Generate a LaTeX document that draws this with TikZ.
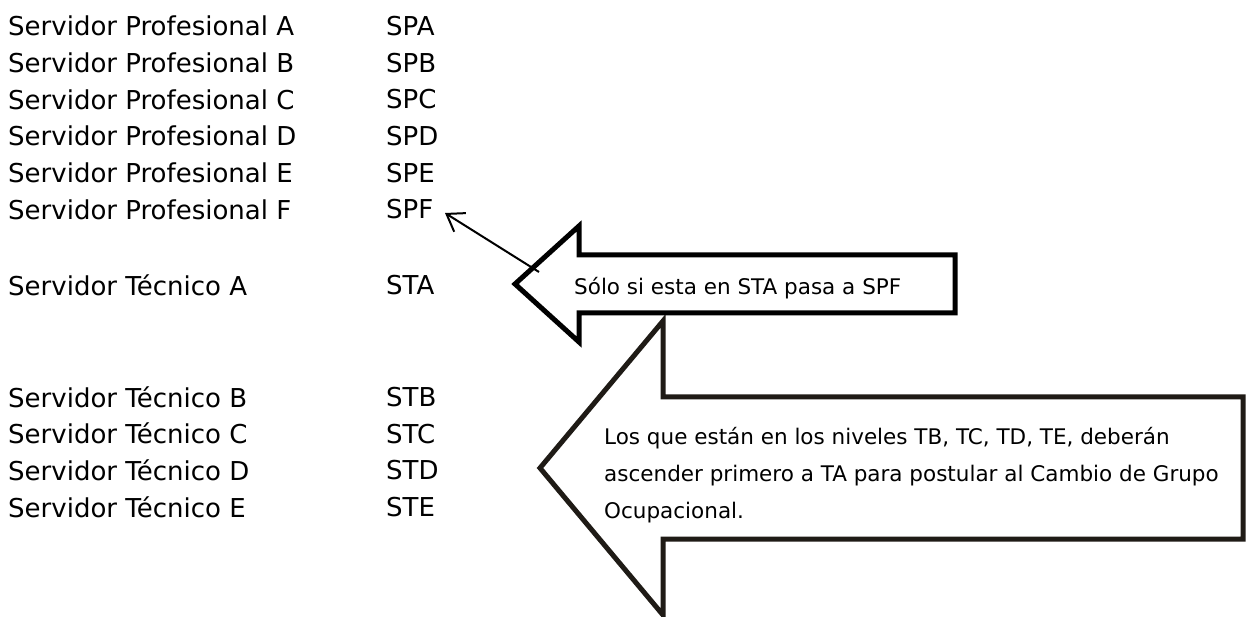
\documentclass[tikz,border=0pt]{standalone}
\usepackage{fontspec}
\setmainfont{DejaVu Sans}
\usetikzlibrary{arrows.meta}
\definecolor{darkline}{HTML}{1F1B16}
\tikzset{
  rowtext/.style={anchor=west, inner sep=0pt, font=\fontsize{26}{30}\selectfont},
  boxtext/.style={anchor=west, inner sep=0pt, font=\fontsize{21.5}{37}\selectfont, align=left},
  blockarrow/.style={line width=5pt, line join=miter, fill=white},
  thinarrow/.style={line width=2pt, -{Straight Barb[length=16pt,width=22pt,line width=2pt]}}
}
\begin{document}
\begin{tikzpicture}[x=1pt,y=-1pt]
\useasboundingbox (0,0) rectangle (1248,617);
\fill[white] (0,0) rectangle (1248,617);

% left column
\node[rowtext] (pa) at (8,26) {Servidor Profesional A};
\node[rowtext] (pb) at (8,62.7) {Servidor Profesional B};
\node[rowtext] (pc) at (8,99.4) {Servidor Profesional C};
\node[rowtext] (pd) at (8,136.1) {Servidor Profesional D};
\node[rowtext] (pe) at (8,172.8) {Servidor Profesional E};
\node[rowtext] (pf) at (8,209.5) {Servidor Profesional F};
\node[rowtext] (ta) at (8,285) {Servidor Técnico A};
\node[rowtext] (tb) at (8,397) {Servidor Técnico B};
\node[rowtext] (tc) at (8,433.7) {Servidor Técnico C};
\node[rowtext] (td) at (8,470.4) {Servidor Técnico D};
\node[rowtext] (te) at (8,507.1) {Servidor Técnico E};

% codes
\node[rowtext] (spa) at (386,26) {SPA};
\node[rowtext] (spb) at (386,62.7) {SPB};
\node[rowtext] (spc) at (386,99.4) {SPC};
\node[rowtext] (spd) at (386,136.1) {SPD};
\node[rowtext] (spe) at (386,172.8) {SPE};
\node[rowtext] (spf) at (386,209.5) {SPF};
\node[rowtext] (sta) at (386,285) {STA};
\node[rowtext] (stb) at (386,397) {STB};
\node[rowtext] (stc) at (386,433.7) {STC};
\node[rowtext] (std) at (386,470.4) {STD};
\node[rowtext] (ste) at (386,507.1) {STE};

% big arrow
\draw[blockarrow, draw=darkline] (540,468) -- (663,321) -- (663,397) -- (1243,397)
  -- (1243,539) -- (663,539) -- (663,615) -- cycle;
\node[boxtext] (bigtext) at (604,475) {Los que están en los niveles TB, TC, TD, TE, deberán\\
ascender primero a TA para postular al Cambio de Grupo\\
Ocupacional.};

% small arrow
\draw[blockarrow, draw=black] (515,284) -- (579,226) -- (579,255) -- (955,255)
  -- (955,313) -- (579,313) -- (579,342) -- cycle;
\node[boxtext] (smalltext) at (574,288) {Sólo si esta en STA pasa a SPF};

% thin arrow
\coordinate (thinstart) at (539,272);
\coordinate (thintip) at (445,213);
\draw[thinarrow] (thinstart) -- (thintip);
\end{tikzpicture}
\end{document}
